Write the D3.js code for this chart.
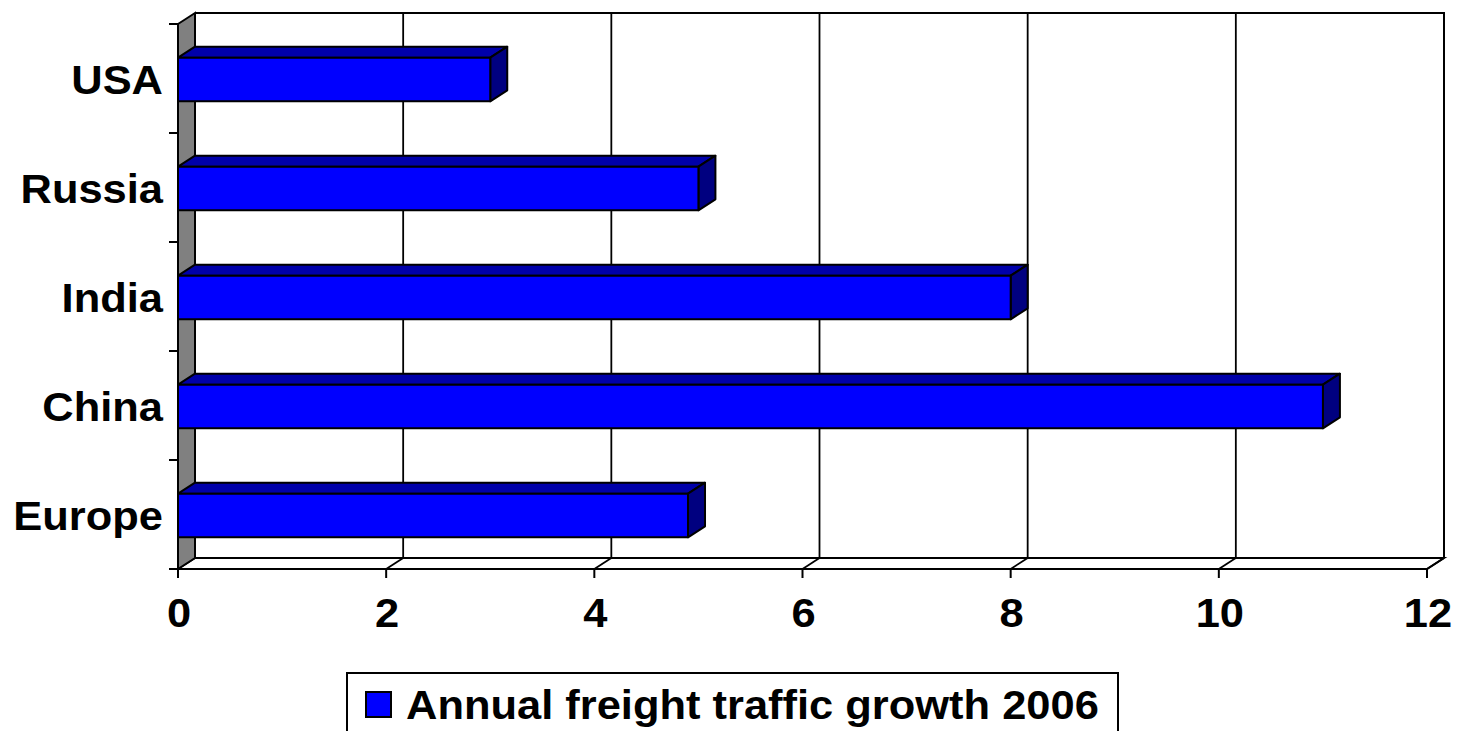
<!DOCTYPE html>
<html>
<head>
<meta charset="utf-8">
<script src="https://cdn.jsdelivr.net/npm/d3@7"></script>
<style>
  html, body { margin: 0; padding: 0; background: #fff; }
  svg { display: block; }
  text { font-family: "Liberation Sans", Arial, sans-serif; font-weight: bold; fill: #000; }
</style>
</head>
<body>
<svg id="chart" width="1458" height="731"></svg>
<script>
// ---- data ----
const categories = ["USA", "Russia", "India", "China", "Europe"];
const values = [3, 5, 8, 11, 4.9];
const xTicks = [0, 2, 4, 6, 8, 10, 12];
const seriesName = "Annual freight traffic growth 2006";

// ---- layout ----
const svg = d3.select("#chart");
const DX = 17, DY = -11;           // 3D depth offset
const plotTop = 24, plotBottom = 569;
const SX = 1.06;                   // horizontal text stretch
const x = d3.scaleLinear().domain([0, 12]).range([178, 1427]);
const y = d3.scaleBand().domain(categories).range([plotTop, plotBottom])
  .paddingInner(0.6).paddingOuter(0.3);

const x0 = x(0), xMax = x(12);
const lineCol = "#000";

function label(parent, tx, ty, str, anchor) {
  return parent.append("text")
    .attr("transform", `translate(${tx},${ty}) scale(${SX},1)`)
    .attr("text-anchor", anchor)
    .attr("font-size", 41)
    .text(str);
}

// back wall outline (top & right)
svg.append("path")
  .attr("d", `M${x0 + DX},${plotTop + DY} L${xMax + DX},${plotTop + DY} L${xMax + DX},${plotBottom + DY}`)
  .attr("fill", "none").attr("stroke", lineCol).attr("stroke-width", 2);

// floor
svg.append("path")
  .attr("d", `M${x0},${plotBottom} L${x0 + DX},${plotBottom + DY} L${xMax + DX},${plotBottom + DY} L${xMax},${plotBottom} Z`)
  .attr("fill", "#fff").attr("stroke", lineCol).attr("stroke-width", 2);

// gridlines (back wall + floor diagonals)
xTicks.filter(v => v > 0).forEach(v => {
  if (v < 12) {
    svg.append("line")
      .attr("x1", x(v) + DX).attr("x2", x(v) + DX)
      .attr("y1", plotTop + DY).attr("y2", plotBottom + DY)
      .attr("stroke", lineCol).attr("stroke-width", 1.8);
  }
  svg.append("line")
    .attr("x1", x(v)).attr("y1", plotBottom)
    .attr("x2", x(v) + DX).attr("y2", plotBottom + DY)
    .attr("stroke", lineCol).attr("stroke-width", 1.8);
});

// left side wall (gray)
svg.append("path")
  .attr("d", `M${x0},${plotTop} L${x0 + DX},${plotTop + DY} L${x0 + DX},${plotBottom + DY} L${x0},${plotBottom} Z`)
  .attr("fill", "#808080").attr("stroke", lineCol).attr("stroke-width", 2);

// front axis line
svg.append("line")
  .attr("x1", x0).attr("x2", xMax).attr("y1", plotBottom).attr("y2", plotBottom)
  .attr("stroke", lineCol).attr("stroke-width", 2);

// x ticks + labels
const xAxis = svg.append("g");
xTicks.forEach(v => {
  xAxis.append("line")
    .attr("x1", x(v)).attr("x2", x(v)).attr("y1", plotBottom).attr("y2", plotBottom + 9)
    .attr("stroke", lineCol).attr("stroke-width", 2);
  label(xAxis, x(v) + 1, 627, v, "middle");
});

// y ticks at band boundaries
const step = y.step();
const boundaries = d3.range(categories.length + 1).map(i => plotTop + i * step);
boundaries.forEach(b => {
  svg.append("line")
    .attr("x1", x0 - 9).attr("x2", x0).attr("y1", b).attr("y2", b)
    .attr("stroke", lineCol).attr("stroke-width", 2);
});

// category labels
categories.forEach(c => {
  label(svg, 163, y(c) + y.bandwidth() / 2 + 15.5, c, "end");
});

// bars (3D)
const bars = svg.append("g");
categories.forEach((c, i) => {
  const v = values[i];
  const y0 = y(c) + 1, bh = y.bandwidth(), xe = x(v);
  const g = bars.append("g").attr("stroke", "#000").attr("stroke-width", 2).attr("stroke-linejoin", "round");
  // top face
  g.append("path")
    .attr("d", `M${x0},${y0} L${x0 + DX},${y0 + DY} L${xe + DX},${y0 + DY} L${xe},${y0} Z`)
    .attr("fill", "#0000AA");
  // side face
  g.append("path")
    .attr("d", `M${xe},${y0} L${xe + DX},${y0 + DY} L${xe + DX},${y0 + bh + DY} L${xe},${y0 + bh} Z`)
    .attr("fill", "#000080");
  // front face
  g.append("rect")
    .attr("x", x0).attr("y", y0).attr("width", xe - x0).attr("height", bh)
    .attr("fill", "#0000FF");
});

// legend
const lg = svg.append("g");
lg.append("rect")
  .attr("x", 347).attr("y", 673).attr("width", 771).attr("height", 80)
  .attr("fill", "#fff").attr("stroke", "#000").attr("stroke-width", 2);
lg.append("rect")
  .attr("x", 366).attr("y", 692).attr("width", 25).attr("height", 25)
  .attr("fill", "#0000FF").attr("stroke", "#000").attr("stroke-width", 2);
label(lg, 406, 719, seriesName, "start");
</script>
</body>
</html>
